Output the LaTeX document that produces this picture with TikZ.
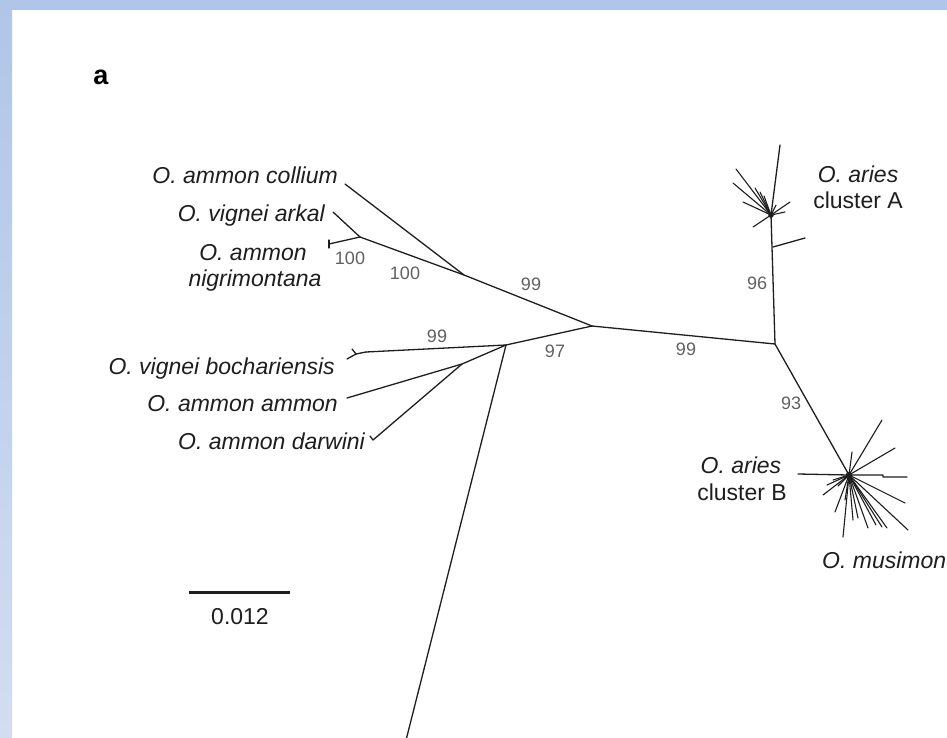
\documentclass[tikz,border=0pt]{standalone}
\usepackage{fontspec}
\setmainfont{Liberation Sans}
\definecolor{frameTop}{RGB}{176,197,232}
\definecolor{frameBot}{RGB}{210,221,241}
\definecolor{ink}{RGB}{30,30,30}
\begin{document}
\begin{tikzpicture}[x=1pt,y=-1pt,
  br/.style={line width=1.3pt, draw=ink, line cap=round, line join=round},
  sp/.style={font=\fontsize{23}{26}\selectfont\itshape, inner sep=0pt, text=ink},
  pl/.style={font=\fontsize{23}{26}\selectfont, inner sep=0pt, text=ink},
  bs/.style={font=\fontsize{18}{20}\selectfont, inner sep=0pt, text=black!62},
]
\useasboundingbox (0,0) rectangle (947,737);
\fill[white] (0,0) rectangle (947,737);
\begin{scope}
\clip (0,0) rectangle (947,737);
% frame strips
\shade[top color=frameTop, bottom color=frameBot] (0,0) rectangle (12,737);
\fill[frameTop] (0,0) rectangle (947,10);

% panel letter
\node[font=\fontsize{27}{28}\selectfont\bfseries, inner sep=0pt, anchor=base] (panel) at (101,84) {a};

% internal nodes / tips
\coordinate (C1) at (592,326);
\coordinate (N1) at (464,275);
\coordinate (N2) at (360,237);
\coordinate (tCol) at (345,184);
\coordinate (tArk) at (333,212);
\coordinate (tNig) at (329,244);
\coordinate (N3) at (506,345);
\coordinate (tBoc) at (366,352);
\coordinate (N4) at (462,364);
\coordinate (tAmm) at (347,398);
\coordinate (tDar) at (373,440);
\coordinate (tLong) at (401,760);
\coordinate (NA) at (775,344);
\coordinate (HA) at (771,215);
\coordinate (tA) at (780,145);
\coordinate (sA1) at (773,247);
\coordinate (sA2) at (805,238);
\coordinate (HB) at (849,475);

% branches
\draw[br] (C1) -- (N1) -- (tCol);
\draw[br] (N1) -- (N2) -- (tArk);
\draw[br] (N2) -- (tNig);
\draw[br] (329,240) -- (329,248);
\draw[br] (C1) -- (N3) -- (tBoc);
\draw[br] (tBoc) -- (356,354) -- (352,349);
\draw[br] (356,354) -- (347,359);
\draw[br] (N3) -- (N4) -- (tAmm);
\draw[br] (N4) -- (tDar) -- (370,436);
\draw[br] (N3) -- (tLong);
\draw[br] (C1) -- (NA) -- (HA) -- (tA);
\draw[br] (sA1) -- (sA2);
\draw[br] (NA) -- (HB);

% cluster A fan
\foreach \p in {(736,169),(733,183),(743,202),(755,188),(760,192),(764,196),(790,202),(785,212),(753,227),(776,205)}
  \draw[br, line width=1.1pt] (HA) -- \p;
\fill[ink] (HA) circle (2.8);

% cluster B fan
\draw[br] (798,474) -- (HB) -- (883,475) -- (883,477) -- (907,477);
\foreach \p in {(882,420),(895,448),(905,503),(908,530),(887,528),(882,527),(876,525),(868,528),(858,518),(843,537),(835,512),(823,495),(827,485),(852,452),(833,480),(838,486),(845,500),(853,520)}
  \draw[br, line width=1.1pt] (HB) -- \p;
\fill[ink] (HB) circle (3.2);

% species labels
\node[sp, anchor=base east] (lCol) at (338,183) {O. ammon collium};
\node[sp, anchor=base east] (lArk) at (325,221) {O. vignei arkal};
\node[sp, anchor=base] (lNig1) at (253,260) {O. ammon};
\node[sp, anchor=base] (lNig2) at (255,286) {nigrimontana};
\node[sp, anchor=base east] (lBoc) at (335,374) {O. vignei bochariensis};
\node[sp, anchor=base east] (lAmm) at (338,411) {O. ammon ammon};
\node[sp, anchor=base east] (lDar) at (365,449) {O. ammon darwini};
\node[sp, anchor=base] (lA1) at (858,182) {O. aries};
\node[pl, anchor=base] (lA2) at (858,208) {cluster A};
\node[sp, anchor=base] (lB1) at (741,473) {O. aries};
\node[pl, anchor=base] (lB2) at (742,500) {cluster B};
\node[sp, anchor=base west] (lMus) at (822,568) {O. musimon};

% bootstrap values
\node[bs] (b1) at (350,258) {100};
\node[bs] (b2) at (405,273) {100};
\node[bs] (b3) at (531,284) {99};
\node[bs] (b4) at (437,336) {99};
\node[bs] (b5) at (555,351) {97};
\node[bs] (b6) at (686,349) {99};
\node[bs] (b7) at (757,283) {96};
\node[bs] (b8) at (791,403) {93};

% scale bar
\coordinate (sb1) at (189,592);
\coordinate (sb2) at (290,592);
\draw[line width=3pt, draw=ink] (sb1) -- (sb2);
\node[pl] (sbl) at (240,617) {0.012};
\end{scope}
\end{tikzpicture}
\end{document}
